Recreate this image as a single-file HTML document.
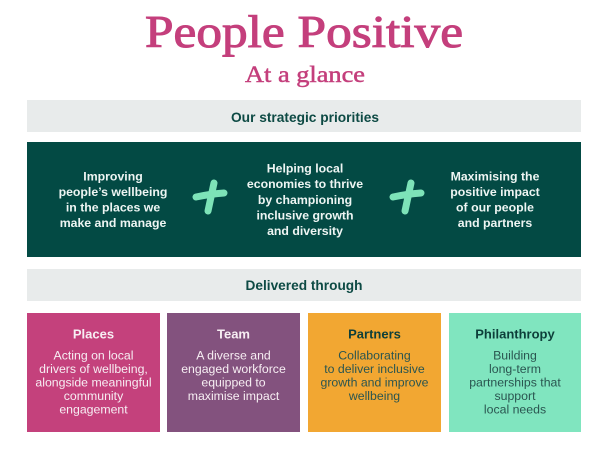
<!DOCTYPE html>
<html><head><meta charset="utf-8"><style>
html,body{margin:0;padding:0;background:#fff;}
svg{display:block;}
.s{font-family:"Liberation Sans",sans-serif;}
.b{font-family:"Liberation Sans",sans-serif;font-weight:bold;}
</style></head><body>
<svg width="605" height="455" viewBox="0 0 605 455" xmlns="http://www.w3.org/2000/svg">
<rect width="605" height="455" fill="#fff"/>
<text x="304" y="47" font-family="Liberation Serif, serif" font-size="45" fill="#c43f7c" stroke="#c43f7c" stroke-width="1" text-anchor="middle" textLength="318" lengthAdjust="spacingAndGlyphs">People Positive</text>
<text x="305" y="82" font-family="Liberation Serif, serif" font-size="23.5" fill="#c43f7c" stroke="#c43f7c" stroke-width="0.5" text-anchor="middle" textLength="120" lengthAdjust="spacingAndGlyphs">At a glance</text>

<rect x="27" y="100" width="554" height="32" fill="#e8ebeb"/>
<text x="305" y="122" class="b" font-size="14" fill="#0d4a44" text-anchor="middle" textLength="148" lengthAdjust="spacingAndGlyphs">Our strategic priorities</text>

<rect x="27" y="142" width="554" height="115" fill="#034a44"/>
<g class="b" font-size="12.3" fill="#eef5f3" text-anchor="middle">
<text x="113" y="180.5">Improving</text>
<text x="113" y="196">people’s wellbeing</text>
<text x="113" y="211.5">in the places we</text>
<text x="113" y="227">make and manage</text>
<text x="305" y="172.5">Helping local</text>
<text x="305" y="188">economies to thrive</text>
<text x="305" y="204">by championing</text>
<text x="305" y="219.5">inclusive growth</text>
<text x="305" y="235">and diversity</text>
<text x="495" y="180.5">Maximising the</text>
<text x="495" y="196">positive impact</text>
<text x="495" y="211.5">of our people</text>
<text x="495" y="227">and partners</text>
</g>
<g stroke="#7de3b8" stroke-width="7" stroke-linecap="round" fill="none">
<path d="M196 197 Q210 194 224 193"/>
<path d="M214 183 L208 211"/>
<path d="M393 197 Q407 194 421 193"/>
<path d="M411 183 L405 211"/>
</g>

<rect x="27" y="269" width="554" height="32" fill="#e8ebeb"/>
<text x="304" y="290" class="b" font-size="14" fill="#0d4a44" text-anchor="middle" textLength="117" lengthAdjust="spacingAndGlyphs">Delivered through</text>

<rect x="27" y="313" width="133" height="119" fill="#c4417c"/>
<rect x="167" y="313" width="133" height="119" fill="#83527e"/>
<rect x="308" y="313" width="133" height="119" fill="#f2a732"/>
<rect x="449" y="313" width="132" height="119" fill="#80e5bf"/>

<g class="b" font-size="13" text-anchor="middle">
<text x="93.5" y="338.5" fill="#f7eef3">Places</text>
<text x="233.5" y="338.5" fill="#f7eef3">Team</text>
<text x="374.5" y="338.5" fill="#0d3f3a">Partners</text>
<text x="515" y="338.5" fill="#0d3f3a">Philanthropy</text>
</g>
<g class="s" font-size="12.3" text-anchor="middle" fill="#f7eef3">
<text x="93.5" y="359.5">Acting on local</text>
<text x="93.5" y="373">drivers of wellbeing,</text>
<text x="93.5" y="386.5">alongside meaningful</text>
<text x="93.5" y="400">community</text>
<text x="93.5" y="413.5">engagement</text>
<text x="233.5" y="359.5">A diverse and</text>
<text x="233.5" y="373">engaged workforce</text>
<text x="233.5" y="386.5">equipped to</text>
<text x="233.5" y="400">maximise impact</text>
</g>
<g class="s" font-size="12.3" text-anchor="middle" fill="#2a5550">
<text x="374.5" y="359.5">Collaborating</text>
<text x="374.5" y="373">to deliver inclusive</text>
<text x="374.5" y="386.5">growth and improve</text>
<text x="374.5" y="400">wellbeing</text>
<text x="515" y="359.5">Building</text>
<text x="515" y="373">long-term</text>
<text x="515" y="386.5">partnerships that</text>
<text x="515" y="400">support</text>
<text x="515" y="413.5">local needs</text>
</g>
</svg>
</body></html>
